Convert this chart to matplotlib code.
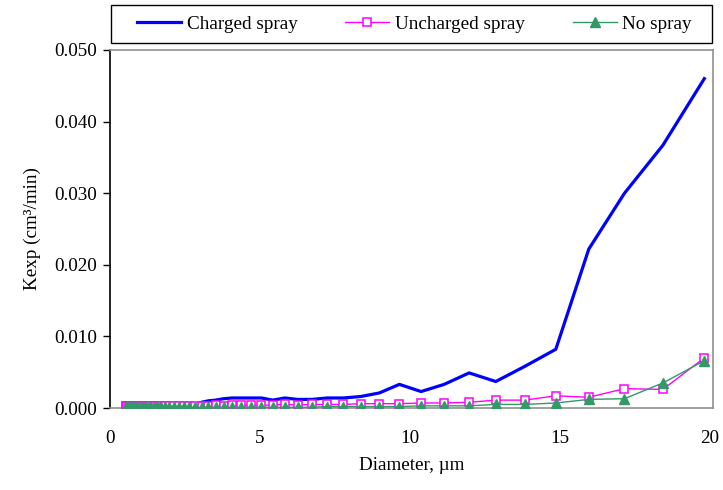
import matplotlib
matplotlib.use('Agg')
import matplotlib.pyplot as plt
from matplotlib.patches import Rectangle

# APS channel midpoints (um)
diameter = [0.523, 0.542, 0.583, 0.626, 0.673, 0.723, 0.777, 0.835, 0.898, 0.965,
            1.037, 1.114, 1.197, 1.286, 1.382, 1.486, 1.596, 1.715, 1.843, 1.981,
            2.129, 2.288, 2.458, 2.642, 2.839, 3.051, 3.278, 3.523, 3.786, 4.068,
            4.371, 4.698, 5.048, 5.425, 5.829, 6.264, 6.732, 7.234, 7.774, 8.354,
            8.977, 9.647, 10.37, 11.14, 11.97, 12.86, 13.82, 14.86, 15.96, 17.15,
            18.43, 19.81]

charged = [0.0001, 0.0001, 0.0001, 0.0001, 0.0001, 0.0001, 0.0001, 0.0001, 0.0001, 0.0001,
           0.0002, 0.0002, 0.0002, 0.0002, 0.0002, 0.0002, 0.0002, 0.0002, 0.0002, 0.0002,
           0.0003, 0.0003, 0.0004, 0.0004, 0.0005, 0.0008, 0.0010, 0.0011, 0.0013, 0.0014,
           0.0014, 0.0014, 0.0014, 0.0011, 0.0014, 0.0012, 0.0012, 0.0014, 0.0014, 0.0016,
           0.0021, 0.0033, 0.0023, 0.0033, 0.0049, 0.0037, 0.0058, 0.0082, 0.0222, 0.0300,
           0.0367, 0.0460]

uncharged = [0.0003, 0.0003, 0.0003, 0.0003, 0.0003, 0.0003, 0.0003, 0.0003, 0.0003, 0.0003,
             0.0003, 0.0003, 0.0003, 0.0003, 0.0003, 0.0003, 0.0003, 0.0003, 0.0003, 0.0003,
             0.0003, 0.0003, 0.0003, 0.0003, 0.0003, 0.0003, 0.0003, 0.0004, 0.0003, 0.0004,
             0.0004, 0.0004, 0.0004, 0.0004, 0.0005, 0.0004, 0.0005, 0.0005, 0.0005, 0.0006,
             0.0006, 0.0006, 0.0007, 0.0007, 0.0008, 0.0011, 0.0011, 0.0017, 0.0015, 0.0027,
             0.0026, 0.0070]

no_spray = [0.0001, 0.0001, 0.0001, 0.0001, 0.0001, 0.0001, 0.0001, 0.0001, 0.0001, 0.0001,
            0.0001, 0.0001, 0.0001, 0.0001, 0.0001, 0.0001, 0.0001, 0.0001, 0.0001, 0.0001,
            0.0001, 0.0001, 0.0001, 0.0001, 0.0001, 0.0001, 0.0001, 0.0001, 0.0001, 0.0001,
            0.0001, 0.0001, 0.0001, 0.0001, 0.0001, 0.0001, 0.0001, 0.0002, 0.0002, 0.0002,
            0.0002, 0.0002, 0.0003, 0.0003, 0.0003, 0.0005, 0.0005, 0.0007, 0.0012, 0.0013,
            0.0035, 0.0066]

x_ticks = [0, 5, 10, 15, 20]
y_ticks = [0.0, 0.01, 0.02, 0.03, 0.04, 0.05]

plt.rcParams['font.family'] = ['Liberation Serif', 'DejaVu Serif']
plt.rcParams['font.size'] = 13.8

fig = plt.figure(figsize=(7.23, 4.90), dpi=100)
ax = fig.add_axes([110 / 723, 82 / 490, 603 / 723, 358 / 490])

ax.plot(diameter, charged, color='#0000FF', lw=2.3, label='Charged spray', zorder=3)
ax.plot(diameter, uncharged, color='#FF00FF', lw=1.0, marker='s', ms=6,
        mfc='white', mec='#FF00FF', mew=1.1, label='Uncharged spray', zorder=4)
ax.plot(diameter, no_spray, color='#339966', lw=1.0, marker='^', ms=7.5,
        mfc='#339966', mec='#339966', label='No spray', zorder=5)

ax.set_xlim(0, 20.1)
ax.set_ylim(0, 0.050)
ax.set_xticks(x_ticks)
ax.set_xticklabels([str(v) for v in x_ticks])
ax.set_yticks(y_ticks)
ax.set_yticklabels(['%.3f' % v for v in y_ticks])

ax.tick_params(axis='x', length=0, pad=16)
ax.tick_params(axis='y', length=5, width=1, direction='out', pad=4, color='black')

for s in ['top', 'right', 'bottom']:
    ax.spines[s].set_color('#909090')
    ax.spines[s].set_linewidth(1.2)
ax.spines['left'].set_color('black')
ax.spines['left'].set_linewidth(1.2)

ax.set_xlabel('Diameter, µm', labelpad=7)
ax.set_ylabel('Kexp (cm³/min)', labelpad=10)

# legend box drawn by hand, entries spread inside it
fig.patches.append(Rectangle((111 / 723, 1 - 43 / 490), 601 / 723, 38 / 490,
                             transform=fig.transFigure, fill=False,
                             edgecolor='black', lw=1.0))
leg = fig.legend(loc='center', ncol=3, mode='expand',
                 bbox_to_anchor=(137 / 723, 1 - 43 / 490, 555 / 723, 38 / 490),
                 frameon=False, handlelength=2.3, handletextpad=0.3,
                 borderpad=0, borderaxespad=0)

plt.savefig('out.png', dpi=100)
